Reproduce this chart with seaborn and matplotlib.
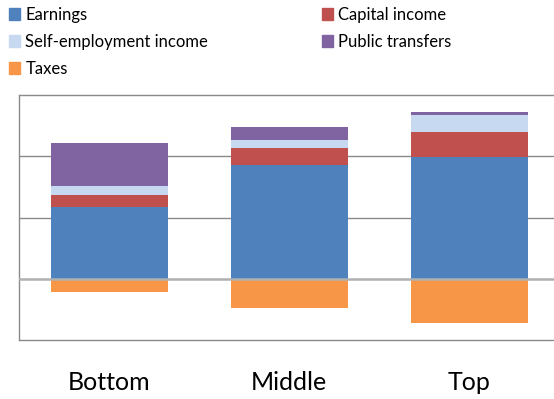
import numpy as np
import pandas as pd
import matplotlib
matplotlib.use("Agg")
import matplotlib.pyplot as plt
import seaborn as sns
from matplotlib.patches import Patch

groups = ["Bottom", "Middle", "Top"]
earnings = [1.175, 1.85, 1.98]
capital_income = [0.20, 0.29, 0.42]
self_employment = [0.135, 0.12, 0.27]
public_transfers = [0.71, 0.22, 0.05]
taxes = [-0.22, -0.485, -0.73]
y_ticks = [-1, 0, 1, 2, 3]

colors = {
    "Earnings": "#4F81BD",
    "Capital income": "#C0504D",
    "Self-employment income": "#C6D9F1",
    "Public transfers": "#8064A2",
    "Taxes": "#F79646",
}

sns.set_style("white")
plt.rcParams["font.family"] = ["Lato", "DejaVu Sans"]
plt.rcParams["text.color"] = "black"
plt.rcParams["xtick.color"] = "black"
plt.rcParams["ytick.color"] = "black"

fig = plt.figure(figsize=(5.54, 3.99), dpi=100)
ax = fig.add_axes([19 / 554, 59 / 399, 540 / 554, 245 / 399])

e = np.array(earnings)
c1 = e + np.array(capital_income)
c2 = c1 + np.array(self_employment)
c3 = c2 + np.array(public_transfers)

layers = [
    (c3, "Public transfers"),
    (c2, "Self-employment income"),
    (c1, "Capital income"),
    (e, "Earnings"),
    (np.array(taxes), "Taxes"),
]
for vals, name in layers:
    df = pd.DataFrame({"group": groups, "value": vals})
    sns.barplot(data=df, x="group", y="value", color=colors[name], width=0.65,
                saturation=1, linewidth=0, ax=ax, zorder=3)

ax.set_ylim(-1, 3)
ax.set_yticks(y_ticks)
ax.set_yticklabels([str(t) for t in y_ticks])
for t in y_ticks:
    if t == 0:
        ax.axhline(t, color="#b0b0b0", lw=1.8, zorder=4)
    else:
        ax.axhline(t, color="#8a8a8a", lw=1.0, zorder=1, clip_on=False)
ax.set_xlim(-0.5, 2.5)
ax.set_xlabel("")
ax.set_ylabel("")
for s in ["top", "right", "bottom"]:
    ax.spines[s].set_visible(False)
ax.spines["left"].set_color("#8a8a8a")
ax.spines["left"].set_linewidth(1.0)
ax.tick_params(axis="y", length=0, pad=16, labelsize=14, labelcolor="black")
ax.tick_params(axis="x", length=0, pad=22, labelsize=18, labelcolor="black")

fs = 12
h1 = [Patch(color=colors[n], label=n) for n in ["Earnings", "Self-employment income", "Taxes"]]
h2 = [Patch(color=colors[n], label=n) for n in ["Capital income", "Public transfers"]]
common = dict(frameon=False, fontsize=fs, handlelength=0.68, handleheight=0.68,
              handletextpad=0.3, labelspacing=0.66, borderaxespad=0, borderpad=0,
              labelcolor="black")
fig.legend(handles=h1, loc="upper left", bbox_to_anchor=(9 / 554, 1 - 7 / 399), **common)
fig.legend(handles=h2, loc="upper left", bbox_to_anchor=(322 / 554, 1 - 7 / 399), **common)

fig.savefig("out.png", dpi=100)
